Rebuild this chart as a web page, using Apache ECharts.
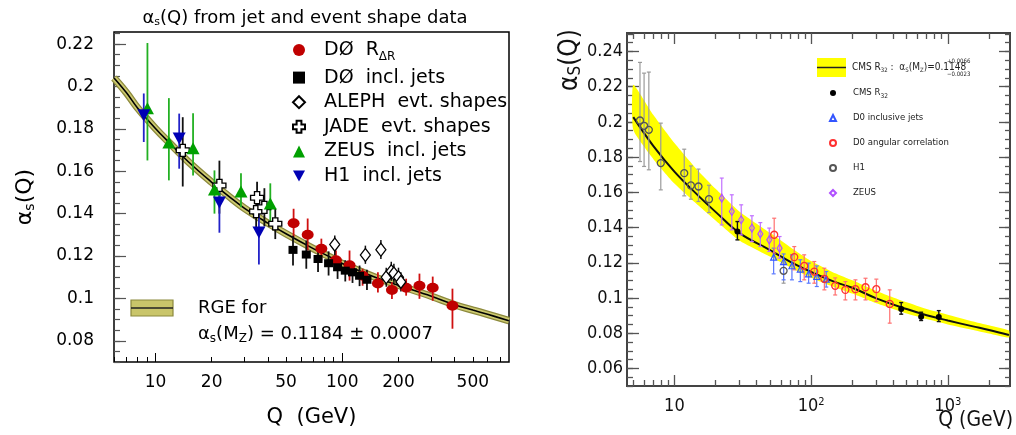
<!DOCTYPE html>
<html><head><meta charset="utf-8">
<script src="https://cdn.jsdelivr.net/npm/echarts@6.0.0/dist/echarts.min.js"></script>
<style>html,body{margin:0;padding:0;background:#fff}#c{width:1016px;height:435px}</style>
</head><body><div id="c"></div>
<script>
// ---------------- LEFT PANEL DATA ----------------
const leftXLabels = [10, 20, 50, 100, 200, 500];
const leftXMajorTicks = [10, 100];
const leftXMinorTicks = [6, 7, 8, 9, 20, 30, 40, 50, 60, 70, 80, 90, 200, 300, 400, 500, 600, 700];
const leftYLabels = [0.08, 0.10, 0.12, 0.14, 0.16, 0.18, 0.20, 0.22];

const leftCurveQ = [6, 7, 8, 10, 12, 15, 20, 25, 30, 40, 50, 70, 91.2, 100, 150, 200, 300, 400, 500, 600, 780];
const leftCurveA = [0.2040, 0.1970, 0.1900, 0.1802, 0.1730, 0.1645, 0.1548, 0.1478, 0.1425, 0.1355, 0.1305, 0.1235, 0.1184, 0.1165, 0.1100, 0.1062, 0.1010, 0.0970, 0.0945, 0.0925, 0.0895];

const d0rQ  = [54.9, 65.3, 77.3, 92.5, 109.4, 128.5, 155.2, 184.5, 219.8, 259, 305, 389];
const d0rA  = [0.1355, 0.1300, 0.1234, 0.1180, 0.1156, 0.1107, 0.1070, 0.1040, 0.1050, 0.1060, 0.1050, 0.0965];
const d0rLo = [0.1289, 0.1226, 0.1178, 0.1131, 0.1084, 0.1060, 0.1028, 0.0997, 0.1013, 0.0998, 0.0989, 0.0857];
const d0rHi = [0.1423, 0.1377, 0.1282, 0.1226, 0.1226, 0.1140, 0.1123, 0.1076, 0.1093, 0.1117, 0.1103, 0.1046];

const d0jQ  = [54.5, 64.2, 74.2, 84.5, 94.4, 103.8, 113.5, 123.8, 135.6];
const d0jA  = [0.1229, 0.1207, 0.1186, 0.1166, 0.1147, 0.1131, 0.1123, 0.1107, 0.1088];
const d0jLo = [0.1155, 0.1140, 0.1125, 0.1108, 0.1092, 0.1080, 0.1073, 0.1058, 0.1040];
const d0jHi = [0.1296, 0.1273, 0.1245, 0.1222, 0.1200, 0.1180, 0.1172, 0.1155, 0.1135];

const alQ  = [91.2, 133, 161, 172, 183, 189, 200, 206];
const alA  = [0.1254, 0.1205, 0.1230, 0.1100, 0.1128, 0.1118, 0.1100, 0.1078];
const alLo = [0.1202, 0.1163, 0.1186, 0.1055, 0.1083, 0.1073, 0.1055, 0.1033];
const alHi = [0.1297, 0.1249, 0.1276, 0.1145, 0.1173, 0.1163, 0.1145, 0.1123];

const jdQ  = [14, 22, 34.6, 35, 38.3, 43.8];
const jdA  = [0.1699, 0.1533, 0.1410, 0.1475, 0.1430, 0.1352];
const jdLo = [0.1528, 0.1400, 0.1330, 0.1390, 0.1340, 0.1280];
const jdHi = [0.1855, 0.1650, 0.1500, 0.1550, 0.1520, 0.1425];

const zsQ  = [9.06, 11.8, 15.9, 20.7, 28.7, 41.2];
const zsA  = [0.1897, 0.1736, 0.1708, 0.1514, 0.1505, 0.1448];
const zsLo = [0.1651, 0.1557, 0.1580, 0.1400, 0.1430, 0.1344];
const zsHi = [0.2205, 0.1945, 0.1874, 0.1604, 0.1590, 0.1543];

const h1Q  = [8.66, 13.4, 22, 35.8];
const h1A  = [0.1864, 0.1755, 0.1453, 0.1311];
const h1Lo = [0.1738, 0.1612, 0.1310, 0.1160];
const h1Hi = [0.1967, 0.1872, 0.1523, 0.1448];

// ---------------- RIGHT PANEL DATA ----------------
const rightXLabels = [10, 100, 1000];
const rightXMinorTicks = [5, 6, 7, 8, 9, 20, 30, 40, 50, 60, 70, 80, 90, 200, 300, 400, 500, 600, 700, 800, 900, 2000];
const rightYLabels = [0.06, 0.08, 0.10, 0.12, 0.14, 0.16, 0.18, 0.20, 0.22, 0.24];

const rCurveQ  = [5, 7, 10, 15, 20, 30, 50, 70, 100, 150, 200, 300, 500, 700, 1000, 1500, 2000, 2800];
const rCurveA  = [0.2027, 0.1864, 0.1718, 0.1580, 0.1489, 0.1368, 0.1272, 0.1207, 0.1148, 0.1090, 0.1058, 0.0998, 0.0937, 0.0902, 0.0872, 0.0840, 0.0818, 0.0790];
const rBandLo  = [0.1955, 0.1790, 0.1650, 0.1525, 0.1440, 0.1325, 0.1235, 0.1175, 0.1115, 0.1060, 0.1025, 0.0970, 0.0912, 0.0880, 0.0850, 0.0820, 0.0798, 0.0775];
const rBandHi  = [0.2211, 0.2040, 0.1880, 0.1720, 0.1620, 0.1490, 0.1370, 0.1290, 0.1210, 0.1140, 0.1100, 0.1040, 0.0975, 0.0937, 0.0905, 0.0868, 0.0845, 0.0815];

const cmsQ  = [28.9, 456, 638, 859];
const cmsA  = [0.1377, 0.0938, 0.0894, 0.0892];
const cmsLo = [0.1330, 0.0908, 0.0872, 0.0866];
const cmsHi = [0.1434, 0.0974, 0.0919, 0.0928];

const d0iQ  = [53.2, 62.9, 72.4, 83.4, 95.9, 110, 129];
const d0iA  = [0.1232, 0.1207, 0.1183, 0.1164, 0.1137, 0.1122, 0.1107];
const d0iLo = [0.1137, 0.1103, 0.1103, 0.1093, 0.1084, 0.1065, 0.1062];
const d0iHi = [0.1283, 0.1250, 0.1245, 0.1217, 0.1198, 0.1182, 0.1150];

const d0aQ  = [53.7, 75.3, 89, 105.5, 125, 150, 178, 211, 250, 300, 376];
const d0aA  = [0.1359, 0.1232, 0.1182, 0.1150, 0.1109, 0.1069, 0.1046, 0.1050, 0.1061, 0.1050, 0.0966];
const d0aLo = [0.1255, 0.1160, 0.1103, 0.1084, 0.1046, 0.1017, 0.0989, 0.0989, 0.0989, 0.0980, 0.0857];
const d0aHi = [0.1453, 0.1292, 0.1245, 0.1207, 0.1169, 0.1114, 0.1093, 0.1103, 0.1112, 0.1107, 0.1046];

const h1rQ  = [5.6, 6.0, 6.5, 7.95, 11.8, 13.2, 15, 17.9, 62.9];
const h1rA  = [0.2008, 0.1978, 0.1955, 0.1766, 0.1709, 0.1639, 0.1633, 0.1561, 0.1154];
const h1rLo = [0.1775, 0.1747, 0.1728, 0.1614, 0.1580, 0.1561, 0.1548, 0.1485, 0.1084];
const h1rHi = [0.2338, 0.2277, 0.2283, 0.1993, 0.1845, 0.1750, 0.1732, 0.1640, 0.1198];

const zrQ  = [22.2, 26.3, 30.8, 36.9, 42.5, 49.4, 58.8];
const zrA  = [0.1567, 0.1491, 0.1444, 0.1397, 0.1364, 0.1330, 0.1283];
const zrLo = [0.1415, 0.1387, 0.1358, 0.1320, 0.1292, 0.1264, 0.1226];
const zrHi = [0.1681, 0.1586, 0.1529, 0.1467, 0.1428, 0.1397, 0.1349];

// ---------------- BUILD ----------------
const L = v => Math.log10(v);
const FL = 'DejaVu Sans';
const FR = "'Liberation Sans Narrow', 'DejaVu Sans Condensed', 'Liberation Sans', sans-serif";

const fmtY = v => String(+(+v).toFixed(2));

function steps(a, b, s) { const out = []; for (let k = 0; a + k * s <= b + 1e-9; k++) out.push(+(a + k * s).toFixed(4)); return out; }

function baseAxis(extra) {
  return Object.assign({
    type: 'value', splitLine: { show: false }, axisLine: { show: false },
    axisLabel: { show: false }, axisTick: { show: false }
  }, extra);
}

const LX = { min: L(6), max: L(781) };
const LY = { min: 0.07, max: 0.2257 };
const RX = { min: L(4.5), max: L(2850) };
const RY = { min: 0.05, max: 0.2505 };

const xAxis = [
  baseAxis(Object.assign({ gridIndex: 0, position: 'bottom',
    axisLabel: { show: true, customValues: leftXLabels.map(L), formatter: v => String(Math.round(Math.pow(10, v))),
      fontFamily: FL, fontSize: 17, color: '#000', margin: 12 },
    axisTick: { show: true, inside: true, customValues: leftXMajorTicks.map(L), length: 9, lineStyle: { color: '#000', width: 1 } },
    name: 'Q  (GeV)', nameLocation: 'middle', nameGap: 45,
    nameTextStyle: { fontFamily: FL, fontSize: 21, color: '#000' } }, LX)),
  baseAxis(Object.assign({ gridIndex: 0, position: 'bottom',
    axisTick: { show: true, inside: true, customValues: leftXMinorTicks.map(L), length: 5, lineStyle: { color: '#000', width: 1 } } }, LX)),
  baseAxis(Object.assign({ gridIndex: 1, position: 'bottom',
    axisLabel: { show: true, customValues: rightXLabels.map(L),
      formatter: v => { const e = Math.round(v); return e === 1 ? '10' : '10{sup|' + e + '}'; },
      fontFamily: FR, fontSize: 18, color: '#111', margin: 11,
      rich: { sup: { fontFamily: FR, fontSize: 11, verticalAlign: 'top', padding: [0, 0, 6, 0], color: '#111' } } },
    axisTick: { show: true, inside: true, customValues: rightXLabels.map(L), length: 11, lineStyle: { color: '#555', width: 1.3 } } }, RX)),
  baseAxis(Object.assign({ gridIndex: 1, position: 'bottom',
    axisTick: { show: true, inside: true, customValues: rightXMinorTicks.map(L), length: 6, lineStyle: { color: '#555', width: 1.3 } } }, RX)),
  baseAxis(Object.assign({ gridIndex: 1, position: 'top',
    axisTick: { show: true, inside: true, customValues: rightXLabels.map(L), length: 11, lineStyle: { color: '#555', width: 1.3 } } }, RX)),
  baseAxis(Object.assign({ gridIndex: 1, position: 'top',
    axisTick: { show: true, inside: true, customValues: rightXMinorTicks.map(L), length: 6, lineStyle: { color: '#555', width: 1.3 } } }, RX))
];

const yAxis = [
  baseAxis(Object.assign({ gridIndex: 0, position: 'left',
    axisLabel: { show: true, customValues: leftYLabels, formatter: fmtY, fontFamily: FL, fontSize: 17, color: '#000', margin: 20 },
    axisTick: { show: true, inside: true, customValues: leftYLabels, length: 12, lineStyle: { color: '#555', width: 1.2 } },
    name: '{a|α}{s|s}{a|(Q)}', nameLocation: 'middle', nameGap: 77, nameRotate: 90,
    nameTextStyle: { fontFamily: FL, fontSize: 22, color: '#000',
      rich: { a: { fontFamily: FL, fontSize: 22, color: '#000' }, s: { fontFamily: FL, fontSize: 14, color: '#000', verticalAlign: 'bottom', padding: [9, 0, 0, 0] } } } }, LY)),
  baseAxis(Object.assign({ gridIndex: 0, position: 'left',
    axisTick: { show: true, inside: true, customValues: steps(0.07, 0.225, 0.005), length: 6, lineStyle: { color: '#555', width: 1.2 } } }, LY)),
  baseAxis(Object.assign({ gridIndex: 1, position: 'left',
    axisLabel: { show: true, customValues: rightYLabels, formatter: fmtY, fontFamily: FR, fontSize: 18, color: '#111', margin: 4 },
    axisTick: { show: true, inside: true, customValues: rightYLabels, length: 12, lineStyle: { color: '#555', width: 1.3 } } }, RY)),
  baseAxis(Object.assign({ gridIndex: 1, position: 'left',
    axisTick: { show: true, inside: true, customValues: steps(0.05, 0.25, 0.005), length: 6, lineStyle: { color: '#555', width: 1.3 } } }, RY)),
  baseAxis(Object.assign({ gridIndex: 1, position: 'right',
    axisTick: { show: true, inside: true, customValues: rightYLabels, length: 11, lineStyle: { color: '#555', width: 1.3 } } }, RY)),
  baseAxis(Object.assign({ gridIndex: 1, position: 'right',
    axisTick: { show: true, inside: true, customValues: steps(0.05, 0.25, 0.005), length: 5, lineStyle: { color: '#555', width: 1.3 } } }, RY))
];

function errSeries(q, lo, hi, color, xi, yi, width, cap) {
  return {
    type: 'custom', xAxisIndex: xi, yAxisIndex: yi, z: 3, silent: true, clip: true,
    itemStyle: { color: color }, encode: { x: 0, y: [1, 2] },
    data: q.map((v, i) => [L(v), lo[i], hi[i]]),
    renderItem: (params, api) => {
      const x = api.value(0);
      const a = api.coord([x, api.value(1)]), b = api.coord([x, api.value(2)]);
      const st = { stroke: color, lineWidth: width };
      const ch = [{ type: 'line', shape: { x1: a[0], y1: a[1], x2: b[0], y2: b[1] }, style: st }];
      if (cap) {
        ch.push({ type: 'line', shape: { x1: a[0] - cap, y1: a[1], x2: a[0] + cap, y2: a[1] }, style: st });
        ch.push({ type: 'line', shape: { x1: b[0] - cap, y1: b[1], x2: b[0] + cap, y2: b[1] }, style: st });
      }
      return { type: 'group', children: ch };
    }
  };
}

function ptSeries(name, q, a, xi, yi, symbol, size, itemStyle, rotate) {
  return {
    type: 'scatter', name: name, xAxisIndex: xi, yAxisIndex: yi, z: 4, silent: true,
    symbol: symbol, symbolSize: size, symbolRotate: rotate || 0,
    itemStyle: Object.assign({ opacity: 1 }, itemStyle),
    data: q.map((v, i) => [L(v), a[i]])
  };
}

function lineSeries(q, a, xi, yi, color, width, z) {
  return {
    type: 'line', xAxisIndex: xi, yAxisIndex: yi, z: z, silent: true, showSymbol: false, smooth: 0.4,
    lineStyle: { color: color, width: width }, data: q.map((v, i) => [L(v), a[i]])
  };
}

const crossPath = 'path://M3,0 L7,0 L7,3 L10,3 L10,7 L7,7 L7,10 L3,10 L3,7 L0,7 L0,3 L3,3 Z';
const downTri = 'path://M0,0 L10,0 L5,9 Z';

const series = [
  lineSeries(leftCurveQ, leftCurveA, 0, 0, '#8c893c', 7.5, 1),
  lineSeries(leftCurveQ, leftCurveA, 0, 0, '#ccc970', 5, 1),
  lineSeries(leftCurveQ, leftCurveA, 0, 0, '#000', 1.6, 2),
  errSeries(d0rQ, d0rLo, d0rHi, '#d01010', 0, 0, 1.8, 0),
  errSeries(d0jQ, d0jLo, d0jHi, '#111', 0, 0, 1.8, 0),
  errSeries(alQ, alLo, alHi, '#111', 0, 0, 1.5, 0),
  errSeries(jdQ, jdLo, jdHi, '#111', 0, 0, 1.8, 0),
  errSeries(zsQ, zsLo, zsHi, '#22b022', 0, 0, 1.8, 0),
  errSeries(h1Q, h1Lo, h1Hi, '#2222c8', 0, 0, 1.8, 0),
  ptSeries('DØ  R', d0rQ, d0rA, 0, 0, 'circle', [12, 10], { color: '#c00000' }),
  ptSeries('DØ  incl. jets', d0jQ, d0jA, 0, 0, 'rect', [9, 8], { color: '#000' }),
  ptSeries('ALEPH  evt. shapes', alQ, alA, 0, 0, 'diamond', [10, 13], { color: '#fff', borderColor: '#000', borderWidth: 1.3 }),
  ptSeries('JADE  evt. shapes', jdQ, jdA, 0, 0, crossPath, [13, 12], { color: '#fff', borderColor: '#000', borderWidth: 1.3 }),
  ptSeries('ZEUS  incl. jets', zsQ, zsA, 0, 0, 'triangle', [13, 12], { color: '#00a000' }),
  ptSeries('H1  incl. jets', h1Q, h1A, 0, 0, downTri, [13, 12], { color: '#0000b4' }),

  {
    type: 'custom', xAxisIndex: 2, yAxisIndex: 2, z: 1, silent: true, clip: true,
    data: [[L(rCurveQ[0]), rBandLo[0]]],
    renderItem: (params, api) => {
      const pts = [];
      rCurveQ.forEach((q, i) => pts.push(api.coord([L(q), rBandHi[i]])));
      for (let i = rCurveQ.length - 1; i >= 0; i--) pts.push(api.coord([L(rCurveQ[i]), rBandLo[i]]));
      return { type: 'polygon', shape: { points: pts, smooth: 0.15 }, style: { fill: '#ffff00' } };
    }
  },
  lineSeries(rCurveQ, rCurveA, 2, 2, '#111', 2, 2),
  errSeries(h1rQ, h1rLo, h1rHi, '#9a9a9a', 2, 2, 1.2, 2),
  errSeries(zrQ, zrLo, zrHi, '#c070ff', 2, 2, 1.2, 2),
  errSeries(d0iQ, d0iLo, d0iHi, '#5a78ff', 2, 2, 1.2, 2),
  errSeries(d0aQ, d0aLo, d0aHi, '#ff7070', 2, 2, 1.2, 2),
  errSeries(cmsQ, cmsLo, cmsHi, '#111', 2, 2, 1.4, 2),
  ptSeries('H1', h1rQ, h1rA, 2, 2, 'circle', 7, { color: 'rgba(0,0,0,0)', borderColor: '#555', borderWidth: 1.3 }),
  ptSeries('ZEUS', zrQ, zrA, 2, 2, 'diamond', [5, 8], { color: 'rgba(0,0,0,0)', borderColor: '#b050ff', borderWidth: 1.2 }),
  ptSeries('D0 inclusive jets', d0iQ, d0iA, 2, 2, 'triangle', 6, { color: 'rgba(0,0,0,0)', borderColor: '#3355ff', borderWidth: 1.2 }),
  ptSeries('D0 angular correlation', d0aQ, d0aA, 2, 2, 'circle', 7, { color: 'rgba(0,0,0,0)', borderColor: '#ff3030', borderWidth: 1.3 }),
  ptSeries('CMS R32', cmsQ, cmsA, 2, 2, 'circle', 6, { color: '#000' })
];

const legend = [
  {
    data: ['DØ  R', 'DØ  incl. jets', 'ALEPH  evt. shapes', 'JADE  evt. shapes', 'ZEUS  incl. jets', 'H1  incl. jets'],
    orient: 'vertical', left: 292, top: 40, itemWidth: 12, itemHeight: 12, itemGap: 4.6, selectedMode: false,
    padding: 0,
    formatter: n => n === 'DØ  R' ? '{b|DØ  R}{sub|ΔR}' : n,
    textStyle: { fontFamily: FL, fontSize: 19, color: '#000', lineHeight: 20, padding: [0, 0, 0, 14],
      rich: { b: { fontFamily: FL, fontSize: 19, color: '#000', lineHeight: 20 },
              sub: { fontFamily: FL, fontSize: 12, color: '#000', lineHeight: 12, verticalAlign: 'bottom', padding: [0, 0, -3, 0] } } }
  },
  {
    data: ['CMS R32', 'D0 inclusive jets', 'D0 angular correlation', 'H1', 'ZEUS'],
    orient: 'vertical', left: 829, top: 86.5, itemWidth: 6, itemHeight: 6, itemGap: 12, selectedMode: false,
    padding: 0,
    formatter: n => n === 'CMS R32' ? '{t|CMS R}{sub|32}' : n,
    textStyle: { fontFamily: FR, fontSize: 9.5, color: '#222', lineHeight: 13, padding: [0, 0, 0, 12],
      rich: { t: { fontFamily: FR, fontSize: 9.5, color: '#222', lineHeight: 13 },
              sub: { fontFamily: FR, fontSize: 6.5, color: '#222', lineHeight: 8, verticalAlign: 'bottom' } } }
  }
];

const graphic = [
  { type: 'text', x: 305, y: 18, style: { text: '{a|α}{s|s}{a|(Q) from jet and event shape data}',
      align: 'center', verticalAlign: 'middle', textAlign: 'center', textVerticalAlign: 'middle',
      rich: { a: { fontFamily: FL, fontSize: 18, fill: '#000', lineHeight: 20 }, s: { fontFamily: FL, fontSize: 11, fill: '#000', lineHeight: 12, verticalAlign: 'bottom' } } } },
  { type: 'rect', shape: { x: 131, y: 300, width: 42, height: 16 }, style: { fill: '#c9c56a', stroke: '#8c893c', lineWidth: 1.2 } },
  { type: 'line', shape: { x1: 131, y1: 308, x2: 173, y2: 308 }, style: { stroke: '#222', lineWidth: 1.5 } },
  { type: 'text', x: 198, y: 308, style: { text: 'RGE for', fontFamily: FL, fontSize: 18, fill: '#000', verticalAlign: 'middle', textVerticalAlign: 'middle' } },
  { type: 'text', x: 198, y: 334, style: { text: '{a|α}{s|s}{a|(M}{s|Z}{a|) = 0.1184 ± 0.0007}', verticalAlign: 'middle', textVerticalAlign: 'middle',
      rich: { a: { fontFamily: FL, fontSize: 18, fill: '#000', lineHeight: 22 }, s: { fontFamily: FL, fontSize: 12, fill: '#000', lineHeight: 12, verticalAlign: 'bottom' } } } },
  { type: 'rect', shape: { x: 817, y: 58, width: 29, height: 19 }, style: { fill: '#ffff00' } },
  { type: 'line', shape: { x1: 817, y1: 67.5, x2: 846, y2: 67.5 }, style: { stroke: '#222', lineWidth: 1.5 } },
  { type: 'text', x: 852, y: 67, style: { text: '{a|CMS R}{s|32}{a| :  α}{s|S}{a|(M}{s|Z}{a|)=0.1148}', verticalAlign: 'middle', textVerticalAlign: 'middle',
      rich: { a: { fontFamily: FR, fontSize: 10, fill: '#222', lineHeight: 13 }, s: { fontFamily: FR, fontSize: 6, fill: '#222', lineHeight: 7, verticalAlign: 'bottom' } } } },
  { type: 'text', x: 947, y: 61, style: { text: '+0.0066', fontFamily: FR, fontSize: 6, fill: '#222', verticalAlign: 'middle', textVerticalAlign: 'middle' } },
  { type: 'text', x: 947, y: 74, style: { text: '−0.0023', fontFamily: FR, fontSize: 6, fill: '#222', verticalAlign: 'middle', textVerticalAlign: 'middle' } },
  { type: 'text', x: 570, y: 60, rotation: Math.PI / 2, style: { text: '{a|α}{s|S}{a|(Q)}', align: 'center', verticalAlign: 'middle', textAlign: 'center', textVerticalAlign: 'middle',
      rich: { a: { fontFamily: FR, fontSize: 26, fill: '#111', lineHeight: 28 }, s: { fontFamily: FR, fontSize: 17, fill: '#111', lineHeight: 16, verticalAlign: 'bottom' } } } },
  { type: 'text', x: 1013, y: 421, style: { text: 'Q (GeV)', fontFamily: FR, fontSize: 21, fill: '#111', align: 'right', verticalAlign: 'middle', textAlign: 'right', textVerticalAlign: 'middle' } }
];

const option = {
  animation: false,
  backgroundColor: '#fff',
  grid: [
    { left: 114, top: 32, width: 395, height: 330, show: true, borderColor: '#000', borderWidth: 1.5, backgroundColor: 'transparent' },
    { left: 627, top: 33, width: 383, height: 353, show: true, borderColor: '#444', borderWidth: 2, backgroundColor: 'transparent' }
  ],
  xAxis: xAxis, yAxis: yAxis, legend: legend, graphic: graphic, series: series
};

const chart = echarts.init(document.getElementById('c'), null, { renderer: 'canvas' });
chart.setOption(option);
</script></body></html>
